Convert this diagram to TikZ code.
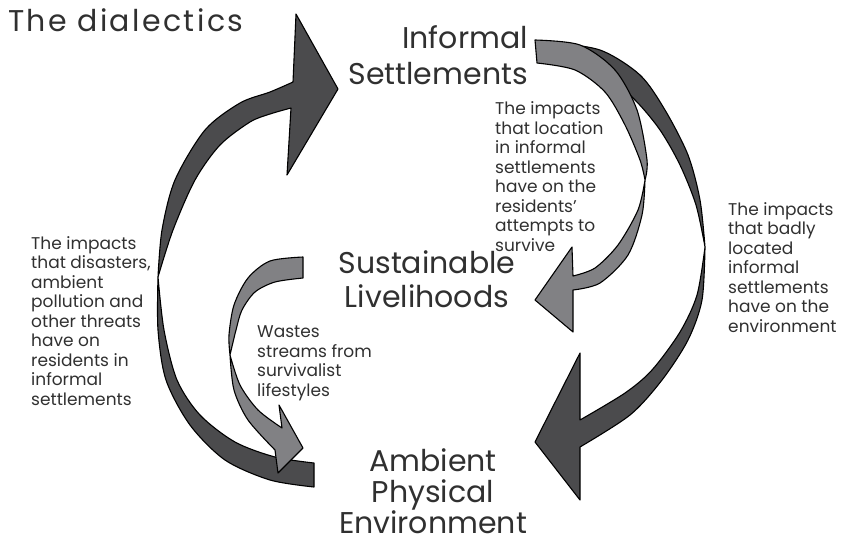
\documentclass[tikz,border=0pt]{standalone}
\usepackage{fontspec}
\setmainfont{Poppins}
\usetikzlibrary{positioning}
\definecolor{dkgray}{HTML}{4B4B4D}
\definecolor{ltgray}{HTML}{818184}
\definecolor{txtgray}{HTML}{303030}

\begin{document}
\begin{tikzpicture}[
  x=1pt, y=-1pt,
  every node/.style={inner sep=0pt, text=txtgray},
  headline/.style={font=\fontsize{30}{35}\selectfont},
  note/.style={font=\fontsize{17}{19.5}\selectfont, align=left, anchor=base west},
  darkarrow/.style={fill=dkgray, draw=black, line width=1.1pt, line join=round},
  lightarrow/.style={fill=ltgray, draw=black, line width=1.1pt, line join=round},
]
\useasboundingbox (0,0) rectangle (848,544);

% Left: Ambient -> Informal (dark, twisted)
\filldraw[darkarrow] plot[smooth] coordinates {(314,463) (275,457) (235,442) (200,415) (177,380) (164,330) (158,277)}
  -- plot[smooth] coordinates {(158,277) (173,230) (195,180) (220,145) (250,122) (270,114) (291,108)}
  -- (287,175) -- (338,89) -- (296,14) -- (293,82)
  -- plot[smooth] coordinates {(293,82) (270,92) (240,103) (205,130) (175,180) (162,230) (158,277)}
  -- plot[smooth] coordinates {(158,277) (158,330) (166,380) (190,425) (225,460) (270,480) (314,487)}
  -- cycle;

% Left: Livelihoods -> Ambient (light)
\filldraw[lightarrow] plot[smooth] coordinates {(303,257) (270,261) (248,278) (234,305) (229,335) (230,355)}
  -- plot[smooth] coordinates {(230,355) (234,390) (248,420) (275,450)}
  -- (278,473) -- (303,448) -- (279,405) -- (282,428)
  -- plot[smooth] coordinates {(282,428) (258,410) (240,385) (230,355)}
  -- plot[smooth] coordinates {(230,355) (236,330) (242,310) (255,292) (275,282) (303,278)}
  -- cycle;

% Right: Informal -> Ambient (dark, twisted)
\filldraw[darkarrow] plot[smooth] coordinates {(548,42) (600,50) (640,75) (665,110) (688,155) (700,200) (705,247)}
  -- plot[smooth] coordinates {(705,247) (702,300) (688,340) (662,380) (630,415) (580,447)}
  -- (580,500) -- (535,442) -- (580,353) -- (580,420)
  -- plot[smooth] coordinates {(580,420) (625,393) (652,370) (680,332) (697,295) (705,247)}
  -- plot[smooth] coordinates {(705,247) (696,205) (680,165) (660,130) (635,100) (600,70) (548,62)}
  -- cycle;

% Right: Informal -> Livelihoods (light)
\filldraw[lightarrow] plot[smooth] coordinates {(535,40) (580,45) (615,70) (637,110) (647,160) (645,180)}
  -- plot[smooth] coordinates {(645,180) (642,215) (628,255) (600,283) (573,290)}
  -- (573,332) -- (535,300) -- (572,247) -- (573,276)
  -- plot[smooth] coordinates {(573,276) (595,268) (618,245) (638,210) (645,180)}
  -- plot[smooth] coordinates {(645,180) (640,160) (625,125) (605,92) (575,70) (537,63)}
  -- cycle;

% Headlines (base anchor = last line)
\node[headline, anchor=base west, font=\fontsize{30}{35}\selectfont\addfontfeature{LetterSpace=8}] (dialectics) at (8,31) {The dialectics};
\node[headline, align=right, anchor=base east, font=\fontsize{30}{36}\selectfont] (informal) at (528,84) {Informal\\Settlements};
\node[headline, align=center, anchor=base, font=\fontsize{30}{34}\selectfont] (livelihoods) at (427,307) {Sustainable\\Livelihoods};
\node[headline, align=center, anchor=base, font=\fontsize{30}{31}\selectfont] (ambient) at (433,533) {Ambient\\Physical\\Environment};

% Notes
\node[note] (location) at (495,251) {The impacts\\that location\\in informal\\settlements\\have on the\\residents'\\attempts to\\survive};
\node[note] (badly) at (728,332) {The impacts\\that badly\\located\\informal\\settlements\\have on the\\environment};
\node[note] (disasters) at (31,405) {The impacts\\that disasters,\\ambient\\pollution and\\other threats\\have on\\residents in\\informal\\settlements};
\node[note] (wastes) at (257,396) {Wastes\\streams from\\survivalist\\lifestyles};

\end{tikzpicture}
\end{document}
